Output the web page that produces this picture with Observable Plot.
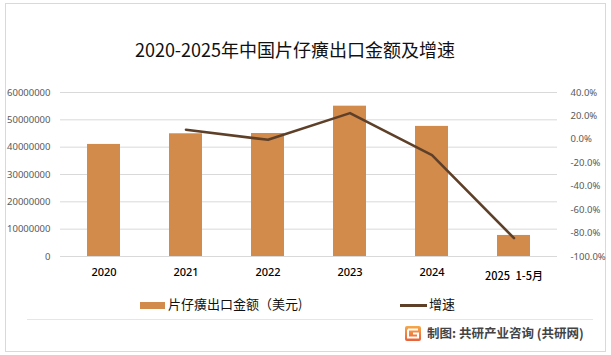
<!DOCTYPE html>
<html><head><meta charset="utf-8">
<script src="https://cdn.jsdelivr.net/npm/d3@7"></script>
<script src="https://cdn.jsdelivr.net/npm/@observablehq/plot@0.6"></script>
<style>
body{margin:0;background:#fff;font-family:"Noto Sans CJK SC","Noto Sans",sans-serif;}
#wrap{position:relative;width:611px;height:355px;overflow:hidden;background:#fff;}
.frame{position:absolute;left:5px;top:3px;width:599px;height:347px;border:1px solid #d9d9d9;}
#title{position:absolute;left:0;width:590px;top:36px;text-align:center;font-size:18px;line-height:26px;color:#111;}
#chart{position:absolute;left:0;top:80px;}
#legend{position:absolute;top:294px;left:0;width:611px;height:20px;font-size:13px;color:#111;}
.item{position:absolute;top:0;line-height:20px;white-space:nowrap;}
.sw{display:inline-block;vertical-align:middle;margin-right:3px;}
.sep{position:absolute;left:27px;top:319px;width:566px;height:1px;background:#e6e6e6;}
#footer{position:absolute;left:405px;top:324px;font-size:12.5px;font-weight:bold;color:#444;line-height:18px;white-space:nowrap;}
#footer svg{vertical-align:middle;margin-right:6px;position:relative;top:-1px;}
</style></head><body>
<div id="wrap">
 <div class="frame"></div>
 <div id="title"></div>
 <div id="chart"></div>
 <div id="legend"></div>
 <div class="sep"></div>
 <div id="footer"></div>
</div>
<script>
const titleText = "2020-2025年中国片仔癀出口金额及增速";
const categories = ["2020", "2021", "2022", "2023", "2024", "2025 1-5月"];
const exportValue = [41000000, 44900000, 45000000, 55000000, 47600000, 7700000];
const growthCategories = ["2021", "2022", "2023", "2024", "2025 1-5月"];
const growthRate = [8.2, -0.4, 22.4, -13.5, -84.3];
const leftTicks = [0, 10000000, 20000000, 30000000, 40000000, 50000000, 60000000];
const rightTicks = [-100, -80, -60, -40, -20, 0, 20, 40];
const seriesNames = ["片仔癀出口金额（美元)", "增速"];
const sourceText = "制图: 共研产业咨询 (共研网)";

const barColor = "#D38B4C";
const lineColor = "#5E4029";

document.getElementById("title").textContent = titleText;

const y2 = d3.scaleLinear([rightTicks[0], rightTicks[rightTicks.length - 1]], [leftTicks[0], leftTicks[leftTicks.length - 1]]);
const bars = categories.map((c, i) => ({category: c, value: exportValue[i]}));
const growth = growthCategories.map((c, i) => ({category: c, rate: growthRate[i]}));
const fmtX = d => d.replace(" ", "\u2002");

const chart = Plot.plot({
  width: 611, height: 212,
  marginLeft: 60, marginRight: 54, marginTop: 12, marginBottom: 36,
  style: {fontFamily: '"Noto Sans","Noto Sans CJK SC",sans-serif', fontSize: "10px", background: "transparent", overflow: "visible"},
  x: {domain: categories, paddingInner: 0.6, paddingOuter: 0.3, axis: null},
  y: {domain: [leftTicks[0], leftTicks[leftTicks.length - 1]], axis: null},
  marks: [
    Plot.gridY(leftTicks, {stroke: "#d9d9d9", strokeOpacity: 1}),
    Plot.barY(bars, {x: "category", y: "value", fill: barColor}),
    Plot.line(growth, {x: "category", y: d => y2(d.rate), stroke: lineColor, strokeWidth: 2.6}),
    Plot.axisY(leftTicks, {anchor: "left", label: null, tickSize: 0, tickPadding: 10, tickFormat: d3.format("d"), color: "#595959", fontSize: 9.5}),
    Plot.axisY(rightTicks.map(y2), {anchor: "right", label: null, tickSize: 0, tickPadding: 13, tickFormat: d => ((Math.round(y2.invert(d)) || 0).toFixed(1) + "%"), color: "#595959", fontSize: 9.5}),
    Plot.axisX(categories.slice(0, 5), {label: null, tickSize: 0, tickPadding: 12, tickFormat: fmtX, color: "#000", fontSize: 11, fontWeight: 500}),
    Plot.axisX(categories.slice(5), {label: null, tickSize: 0, tickPadding: 16, tickFormat: fmtX, color: "#000", fontSize: 11, fontWeight: 500, fontFamily: '"Noto Sans CJK SC",sans-serif'})
  ]
});
document.getElementById("chart").appendChild(chart);

const legend = document.getElementById("legend");
legend.innerHTML =
  `<div class="item" style="left:140px"><span class="sw" style="width:25px;height:7px;background:${barColor}"></span>${seriesNames[0]}</div>` +
  `<div class="item" style="left:400px"><span class="sw" style="width:27px;height:3px;background:${lineColor};margin-right:2px"></span>${seriesNames[1]}</div>`;

document.getElementById("footer").innerHTML =
  `<svg width="16" height="15" viewBox="0 0 16 15"><defs><linearGradient id="lg" x1="0" y1="0" x2="0" y2="1"><stop offset="0" stop-color="#f7a84a"/><stop offset="1" stop-color="#e8603a"/></linearGradient></defs>` +
  `<rect x="0" y="0" width="16" height="15" rx="2" fill="url(#lg)"/><path d="M3 3.5h10M3 3.5v8h10v-4h-5" stroke="#fff" stroke-width="2" fill="none"/></svg>` + sourceText;
</script>
</body></html>
